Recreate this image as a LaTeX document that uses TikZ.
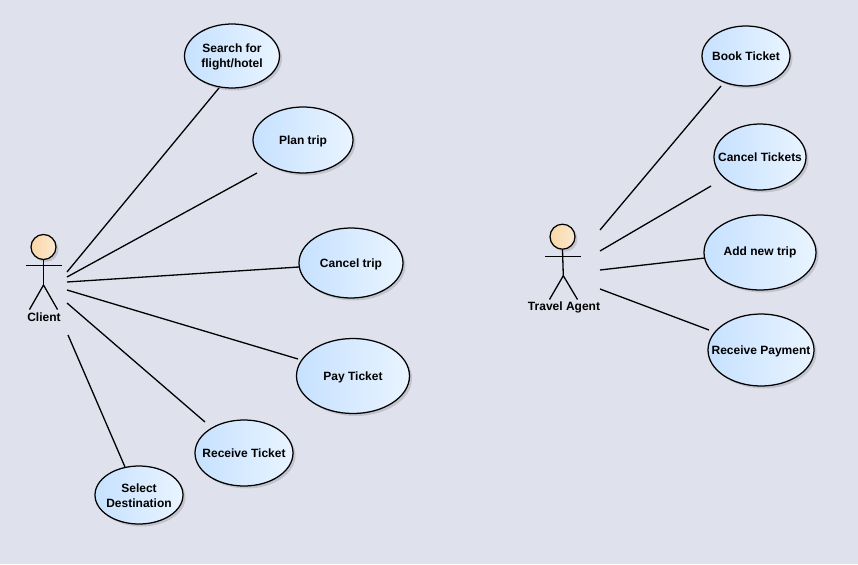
\documentclass[tikz,border=0pt]{standalone}
\usepackage{fontspec}
\setmainfont{Liberation Sans}
\usetikzlibrary{shapes.geometric}
\definecolor{bgc}{HTML}{DFE2EC}
\definecolor{ucl}{HTML}{C6E1FF}
\definecolor{ucr}{HTML}{E9F4FF}
\definecolor{hdl}{HTML}{F9D7A8}
\definecolor{hdr}{HTML}{FBE9D0}
\newcommand{\ucline}[1]{\makebox[0pt][c]{\raisebox{-1pt}[\height][\depth]{#1}}}
\newcommand{\ucflat}[1]{\makebox[0pt][c]{#1}}
\tikzset{
  usecase/.style={ellipse,draw=black,line width=1.25pt,left color=ucl,right color=ucr,inner sep=0pt,
    align=center,font=\fontsize{12}{15}\selectfont\bfseries,text=black},
  head/.style={circle,draw=black,line width=1.25pt,left color=hdl,right color=hdr,inner sep=0pt,minimum size=25pt},
  stick/.style={draw=black,line width=1.3pt},
  assoc/.style={draw=black,line width=1.3pt},
  actorlabel/.style={font=\fontsize{12}{15}\selectfont\bfseries,text=black,inner sep=0pt},
  shadowblob/.style={fill=black,opacity=0.13,draw=none}
}
\begin{document}
\begin{tikzpicture}[x=1pt,y=-1pt]
\path[fill=bgc] (0,0) rectangle (858,564);
\useasboundingbox (0,0) rectangle (858,564);
% soft shadows
\foreach \cx/\cy/\rx/\ry in {232/56/47.5/32,303/140/50/33,351/263/52/35,353/376/56.5/37.5,244/453/49/33,139/495/44/29,746/56/44/30,760/157/46/33,760/252.5/56/37.5,761/350/53/36,43.5/247/12.5/12.5,562.5/236.7/12.5/12.5}{
  \path[shadowblob] (\cx+2.5,\cy+2.5) ellipse [x radius=\rx,y radius=\ry];
}
% use cases
\node[usecase,minimum width=95pt,minimum height=64pt] (search) at (232,56) {\ucline{Search for}\\\ucline{flight/hotel}};
\node[usecase,minimum width=100pt,minimum height=66pt] (plan) at (303,140) {\ucline{Plan trip}};
\node[usecase,minimum width=104pt,minimum height=70pt] (canceltrip) at (351,263) {\ucline{Cancel trip}};
\node[usecase,minimum width=113pt,minimum height=75pt] (pay) at (353,376) {\ucline{Pay Ticket}};
\node[usecase,minimum width=98pt,minimum height=66pt] (receive) at (244,453) {\ucflat{Receive Ticket}};
\node[usecase,minimum width=88pt,minimum height=58pt] (select) at (139,495) {\ucline{Select}\\\ucline{Destination}};
\node[usecase,minimum width=88pt,minimum height=60pt] (book) at (746,56) {\ucflat{Book Ticket}};
\node[usecase,minimum width=92pt,minimum height=66pt] (canceltickets) at (760,157) {\ucflat{Cancel Tickets}};
\node[usecase,minimum width=112pt,minimum height=75pt] (addtrip) at (760,252.5) {\ucflat{Add new trip}};
\node[usecase,minimum width=106pt,minimum height=72pt] (payment) at (761,350) {\ucline{Receive Payment}};
% actors
\node[head] (clienthead) at (43.5,247) {};
\coordinate (clienthip) at (43.5,285);
\coordinate (clientarmL) at (26,265.5);
\coordinate (clientarmR) at (62,265.5);
\coordinate (clientlegL) at (29.5,309.5);
\coordinate (clientlegR) at (57.5,309.5);
\draw[stick] (clienthead.south) -- (clienthip);
\draw[stick] (clientarmL) -- (clientarmR);
\draw[stick] (clientlegL) -- (clienthip) -- (clientlegR);
\node[actorlabel] (clientlabel) at (44,317) {Client};
\node[head] (agenthead) at (562.5,236.7) {};
\coordinate (agenthip) at (563.3,275.7);
\coordinate (agentarmL) at (545,256.5);
\coordinate (agentarmR) at (581,256.5);
\coordinate (agentlegL) at (549.5,299.5);
\coordinate (agentlegR) at (577.5,299.5);
\draw[stick] (agenthead.south) -- (agenthip);
\draw[stick] (agentarmL) -- (agentarmR);
\draw[stick] (agentlegL) -- (agenthip) -- (agentlegR);
\node[actorlabel] (agentlabel) at (564,307) {Travel Agent};
% free ends of the associations
\coordinate (c1) at (67,272);  \coordinate (e1) at (219,88);
\coordinate (c2) at (67,277);  \coordinate (e2) at (257,173);
\coordinate (c3) at (67,282);  \coordinate (e3) at (299,267);
\coordinate (c4) at (67,290);  \coordinate (e4) at (298,359);
\coordinate (c5) at (67,303);  \coordinate (e5) at (205,422);
\coordinate (c6) at (68,335);  \coordinate (e6) at (125,467);
\coordinate (a1) at (600,230); \coordinate (f1) at (721,86);
\coordinate (a2) at (600,251); \coordinate (f2) at (711,186);
\coordinate (a3) at (600,270); \coordinate (f3) at (705,258);
\coordinate (a4) at (600,289); \coordinate (f4) at (709,330);
\foreach \p/\q in {c1/e1,c2/e2,c3/e3,c4/e4,c5/e5,c6/e6,a1/f1,a2/f2,a3/f3,a4/f4}{
  \draw[assoc] (\p) -- (\q);
}
\end{tikzpicture}
\end{document}
